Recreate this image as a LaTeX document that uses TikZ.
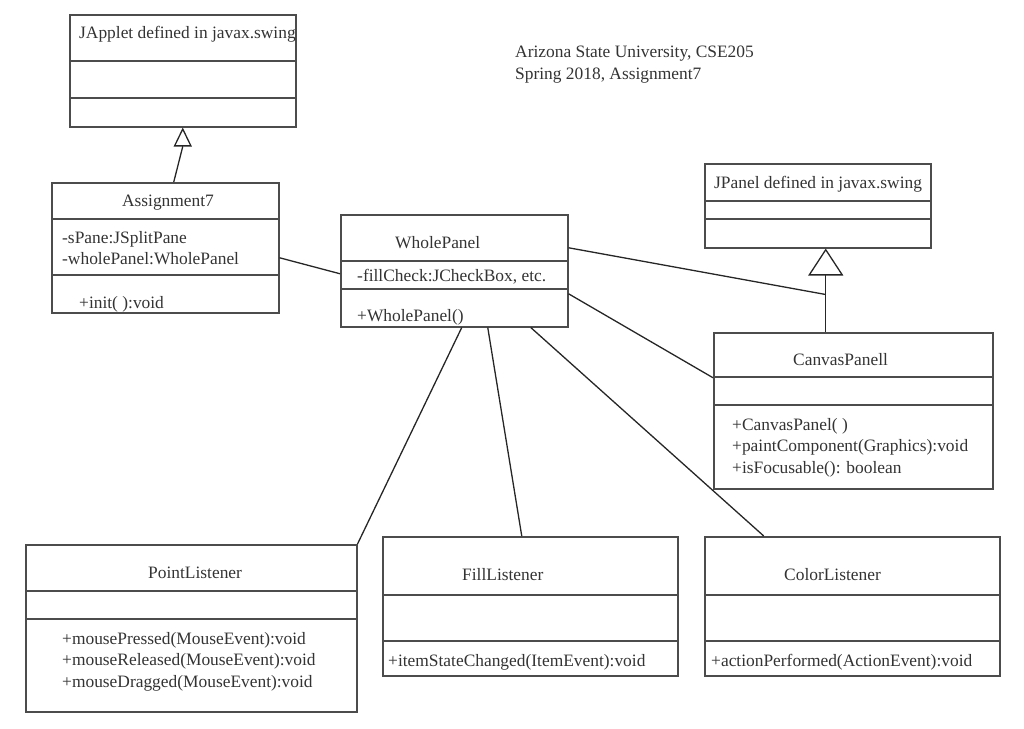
\documentclass[tikz,border=0pt]{standalone}
\usepackage{fontspec}
\setmainfont{Liberation Serif}
\usepackage{tikz}
\usetikzlibrary{arrows.meta,calc}

\begin{document}
\begin{tikzpicture}[x=1pt, y=-1pt,
    cls/.style={draw=black!70, line width=1.5pt, anchor=north west, inner sep=0pt},
    part/.style={draw=black!70, line width=1.5pt},
    link/.style={draw=black!85, line width=1.3pt},
    txt/.style={inner sep=0pt, text=black!80, font={\fontsize{17.4}{21.5}\selectfont}}]
    \useasboundingbox (0,0) rectangle (1024,728);

    % class boxes
    \node (japplet) [cls, minimum width=226pt, minimum height=112pt] at (69,14) {};
    \node (assign) [cls, minimum width=227pt, minimum height=130pt] at (51,182) {};
    \node (whole) [cls, minimum width=227pt, minimum height=112pt] at (340,214) {};
    \node (jpanel) [cls, minimum width=226pt, minimum height=84pt] at (704,163) {};
    \node (canvas) [cls, minimum width=279pt, minimum height=156pt] at (713,332) {};
    \node (point) [cls, minimum width=331pt, minimum height=167pt] at (25,544) {};
    \node (fill) [cls, minimum width=295pt, minimum height=139pt] at (382,536) {};
    \node (color) [cls, minimum width=295pt, minimum height=139pt] at (704,536) {};

    % compartments
    \foreach \c/\a/\b in {japplet/47/84, assign/37/93, whole/47/75, jpanel/38/56,
                          canvas/45/73, point/47/75, fill/59/105, color/59/105}
        \draw[part] ($(\c.north west)+(0,\a)$) -- ($(\c.north east)+(0,\a)$)
                    ($(\c.north west)+(0,\b)$) -- ($(\c.north east)+(0,\b)$);

    % texts
    \node (japplet-t) [txt, anchor=base west] at (79,38) {JApplet defined in javax.swing};
    \node (assign-t) [txt, anchor=base] at (168,206) {Assignment7};
    \node (assign-a) [txt, anchor=north west, align=left] at (62,231) {-sPane:JSplitPane\\-wholePanel:WholePanel};
    \node (assign-m) [txt, anchor=base west] at (79,308) {+init( ):void};
    \node (whole-t) [txt, anchor=base west] at (395,248) {WholePanel};
    \node (whole-a) [txt, anchor=base west] at (357,281) {-fillCheck:JCheckBox, etc.};
    \node (whole-m) [txt, anchor=base west] at (357,321) {+WholePanel()};
    \node (jpanel-t) [txt, anchor=base west] at (714,188) {JPanel defined in javax.swing};
    \node (canvas-t) [txt, anchor=base west] at (793,365) {CanvasPanell};
    \node (canvas-m) [txt, anchor=north west, align=left] at (732,418) {+CanvasPanel( )\\+paintComponent(Graphics):void\\+isFocusable(): boolean};
    \node (point-t) [txt, anchor=base west] at (148,578) {PointListener};
    \node (point-m) [txt, anchor=north west, align=left] at (62,632) {+mousePressed(MouseEvent):void\\+mouseReleased(MouseEvent):void\\+mouseDragged(MouseEvent):void};
    \node (fill-t) [txt, anchor=base west] at (462,580) {FillListener};
    \node (fill-m) [txt, anchor=base west] at (388,666) {+itemStateChanged(ItemEvent):void};
    \node (color-t) [txt, anchor=base west] at (784,580) {ColorListener};
    \node (color-m) [txt, anchor=base west] at (711,666) {+actionPerformed(ActionEvent):void};
    \node (hdr) [txt, anchor=north west, align=left] at (515,46) {Arizona State University, CSE205\\Spring 2018, Assignment7};

    % generalisation
    \coordinate (jab) at ($(japplet.south)+(0,19)$);
    \draw[link] ([xshift=8.5pt]assign.north) -- (jab);
    \draw[link, -{Triangle[open, length=19pt, width=18pt]}] (jab) -- (japplet.south);
    \coordinate (jn) at ($(jpanel.south)+(8,46)$);
    \draw[link, -{Triangle[open, length=27pt, width=35pt]}] (canvas.north -| jn) -- (jpanel.south -| jn);

    % associations
    \draw[link] ([yshift=-10pt]assign.east) -- ([yshift=-3pt]whole.west);
    \draw[link] ([yshift=23pt]whole.east) -- (jn);
    \draw[link] ([yshift=-23pt]whole.east) -- ([yshift=33pt]canvas.west);
    \draw[link] ([xshift=7.5pt]whole.south) -- (point.north east);
    \draw[link] ([xshift=33.5pt]whole.south) -- ([xshift=-8.5pt]fill.north);
    \draw[link] ([xshift=76.5pt]whole.south) -- ([xshift=-88.5pt]color.north);
\end{tikzpicture}
\end{document}
